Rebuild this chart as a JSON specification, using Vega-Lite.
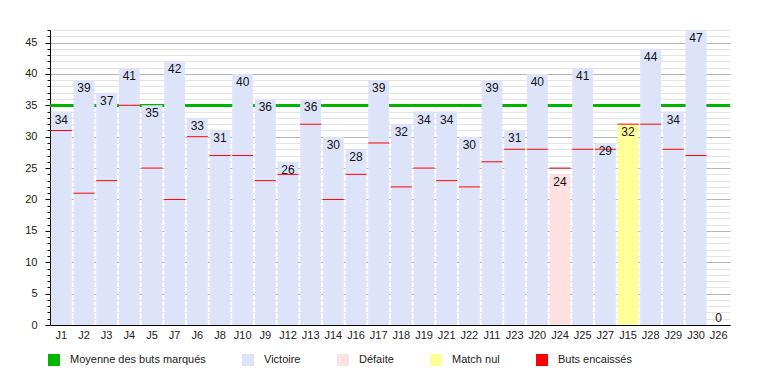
{
  "$schema": "https://vega.github.io/schema/vega-lite/v6.json",
  "width": 680,
  "height": 295,
  "autosize": {"type": "none"},
  "padding": {"left": 50, "top": 30, "right": 30, "bottom": 50},
  "config": {
    "view": {"stroke": null},
    "font": "Liberation Sans",
    "axis": {"labelFont": "Liberation Sans", "labelColor": "#222222", "labelFontSize": 11}
  },
  "data": {
    "values": [
      {"match": "J1", "scored": 34, "conceded": 31, "result": "Victoire"},
      {"match": "J2", "scored": 39, "conceded": 21, "result": "Victoire"},
      {"match": "J3", "scored": 37, "conceded": 23, "result": "Victoire"},
      {"match": "J4", "scored": 41, "conceded": 35, "result": "Victoire"},
      {"match": "J5", "scored": 35, "conceded": 25, "result": "Victoire"},
      {"match": "J7", "scored": 42, "conceded": 20, "result": "Victoire"},
      {"match": "J6", "scored": 33, "conceded": 30, "result": "Victoire"},
      {"match": "J8", "scored": 31, "conceded": 27, "result": "Victoire"},
      {"match": "J10", "scored": 40, "conceded": 27, "result": "Victoire"},
      {"match": "J9", "scored": 36, "conceded": 23, "result": "Victoire"},
      {"match": "J12", "scored": 26, "conceded": 24, "result": "Victoire"},
      {"match": "J13", "scored": 36, "conceded": 32, "result": "Victoire"},
      {"match": "J14", "scored": 30, "conceded": 20, "result": "Victoire"},
      {"match": "J16", "scored": 28, "conceded": 24, "result": "Victoire"},
      {"match": "J17", "scored": 39, "conceded": 29, "result": "Victoire"},
      {"match": "J18", "scored": 32, "conceded": 22, "result": "Victoire"},
      {"match": "J19", "scored": 34, "conceded": 25, "result": "Victoire"},
      {"match": "J21", "scored": 34, "conceded": 23, "result": "Victoire"},
      {"match": "J22", "scored": 30, "conceded": 22, "result": "Victoire"},
      {"match": "J11", "scored": 39, "conceded": 26, "result": "Victoire"},
      {"match": "J23", "scored": 31, "conceded": 28, "result": "Victoire"},
      {"match": "J20", "scored": 40, "conceded": 28, "result": "Victoire"},
      {"match": "J24", "scored": 24, "conceded": 25, "result": "Défaite"},
      {"match": "J25", "scored": 41, "conceded": 28, "result": "Victoire"},
      {"match": "J27", "scored": 29, "conceded": 28, "result": "Victoire"},
      {"match": "J15", "scored": 32, "conceded": 32, "result": "Match nul"},
      {"match": "J28", "scored": 44, "conceded": 32, "result": "Victoire"},
      {"match": "J29", "scored": 34, "conceded": 28, "result": "Victoire"},
      {"match": "J30", "scored": 47, "conceded": 27, "result": "Victoire"},
      {"match": "J26", "scored": 0, "conceded": null, "result": "Victoire"}
    ]
  },
  "resolve": {"axis": {"y": "independent"}},
  "layer": [
    {
      "mark": {"type": "rule", "strokeWidth": 2.5},
      "encoding": {
        "y": {
          "datum": 35,
          "type": "quantitative",
          "scale": {"domain": [0, 47], "nice": false},
          "axis": {
            "orient": "left",
            "values": [0,1,2,3,4,5,6,7,8,9,10,11,12,13,14,15,16,17,18,19,20,21,22,23,24,25,26,27,28,29,30,31,32,33,34,35,36,37,38,39,40,41,42,43,44,45,46,47],
            "labels": false,
            "domain": false,
            "tickSize": 3,
            "tickColor": "#000000",
            "grid": true,
            "gridColor": "#e4e4e4",
            "title": null
          }
        },
        "color": {"datum": "Moyenne des buts marqués"}
      }
    },
    {
      "mark": {"type": "bar", "opacity": 1},
      "encoding": {
        "x": {
          "field": "match",
          "type": "nominal",
          "sort": null,
          "scale": {"paddingInner": 0.08, "paddingOuter": 0.04},
          "axis": {
            "title": null,
            "labelAngle": 0,
            "ticks": false,
            "labelPadding": 4,
            "domainColor": "#000000",
            "zindex": 1
          }
        },
        "y": {
          "field": "scored",
          "type": "quantitative",
          "axis": {
            "orient": "left",
            "values": [0, 5, 10, 15, 20, 25, 30, 35, 40, 45],
            "tickSize": 5,
            "tickColor": "#000000",
            "domainColor": "#000000",
            "labelPadding": 8,
            "grid": true,
            "gridColor": "#b4b4b4",
            "title": null
          }
        },
        "color": {
          "field": "result",
          "type": "nominal",
          "scale": {
            "domain": ["Moyenne des buts marqués", "Victoire", "Défaite", "Match nul", "Buts encaissés"],
            "range": ["#00b400", "#dde4fa", "#ffe0e0", "#ffff99", "#ff0000"]
          },
          "legend": {
            "title": null,
            "orient": "none",
            "direction": "horizontal",
            "legendX": -2,
            "legendY": 324,
            "symbolType": "square",
            "symbolSize": 144,
            "symbolStrokeWidth": 0,
            "labelOffset": 10,
            "labelFontSize": 11,
            "labelFont": "Liberation Sans",
            "labelColor": "#222222",
            "columnPadding": 36,
            "labelLimit": 300,
            "encode": {
              "symbols": {"update": {"fill": {"scale": "color", "field": "value"}, "fillOpacity": {"value": 1}, "opacity": {"value": 1}}}
            }
          }
        }
      }
    },
    {
      "mark": {"type": "tick", "thickness": 1, "size": 21, "opacity": 1},
      "encoding": {
        "x": {"field": "match", "type": "nominal", "sort": null},
        "y": {"field": "conceded", "type": "quantitative", "axis": null},
        "color": {"datum": "Buts encaissés"}
      }
    },
    {
      "transform": [{"filter": "datum.scored > 0"}],
      "mark": {"type": "text", "baseline": "top", "dy": 3, "fontSize": 12, "font": "Liberation Sans", "color": "#111111"},
      "encoding": {
        "x": {"field": "match", "type": "nominal", "sort": null},
        "y": {"field": "scored", "type": "quantitative", "axis": null},
        "text": {"field": "scored", "type": "quantitative"}
      }
    },
    {
      "transform": [{"filter": "datum.scored == 0"}],
      "mark": {"type": "text", "baseline": "bottom", "dy": 0, "fontSize": 12, "font": "Liberation Sans", "color": "#111111"},
      "encoding": {
        "x": {"field": "match", "type": "nominal", "sort": null},
        "y": {"field": "scored", "type": "quantitative", "axis": null},
        "text": {"field": "scored", "type": "quantitative"}
      }
    }
  ]
}
